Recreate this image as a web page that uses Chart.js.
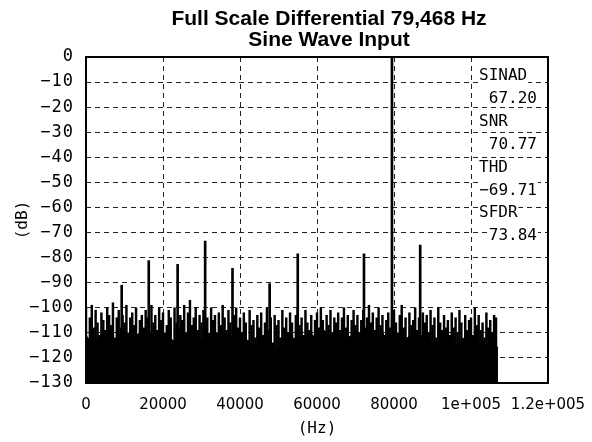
<!DOCTYPE html>
<html>
<head>
<meta charset="utf-8">
<script src="https://cdn.jsdelivr.net/npm/chart.js@4.4.1/dist/chart.umd.min.js"></script>
<style>
  html, body { margin: 0; padding: 0; background: #fff; }
  #contenedor { width: 592px; height: 442px; }
</style>
</head>
<body>
<div id="contenedor"><canvas id="espectroChart"></canvas></div>
<script>
// Textos y etiquetas
const tituloLineas = ["Full Scale Differential 79,468 Hz", "Sine Wave Input"];
const xTickLabels = ["0", "20000", "40000", "60000", "80000", "1e+005", "1.2e+005"];
const yTickLabels = ["0", "−10", "−20", "−30", "−40", "−50", "−60", "−70", "−80", "−90", "−100", "−110", "−120", "−130"];
const statNombres = ["SINAD", "SNR", "THD", "SFDR"];
const statValores = ["67.20", "70.77", "−69.71", "73.84"];

// Piso de ruido (dB), un valor cada 1000 Hz desde 0
const pasoPiso = 1000;
const ruidoPiso = [
    -111, -113, -112, -114, -110, -113, -112, -115, -113, -110,
    -109, -111, -108, -111, -110, -112, -109, -111, -110, -112,
    -111, -113, -112, -114, -111, -113, -110, -112, -114, -111,
    -113, -112, -110, -112, -111, -109, -112, -110, -113, -111,
    -114, -112, -113, -115, -114, -116, -115, -117, -116, -118,
    -116, -115, -113, -114, -112, -113, -111, -112, -110, -111,
    -113, -111, -109, -112, -110, -111, -113, -110, -112, -111,
    -109, -111, -110, -112, -109, -111, -113, -110, -112, -111,
    -110, -112, -110, -113, -111, -112, -114, -112, -113, -111,
    -114, -113, -115, -112, -114, -113, -115, -114, -112, -115,
    -113, -114, -116, -113, -115, -117, -114, -116
];

// Picos del ruido (dB), un valor cada 500 Hz desde 0
const pasoRuido = 500;
const ruidoPicos = [
    -100, -113, -104, -99, -108, -101, -106, -111, -102, -105,
    -109, -100, -103, -107, -98, -112, -104, -101, -108, -103,
    -106, -99, -110, -104, -102, -107, -100, -111, -105, -103,
    -108, -101, -104, -112, -99, -106, -103, -109, -100, -105,
    -102, -110, -107, -101, -104, -113, -100, -106, -108, -103,
    -105, -99, -111, -102, -97, -107, -104, -100, -109, -103,
    -106, -101, -108, -104, -112, -100, -105, -103, -110, -102,
    -107, -99, -104, -109, -101, -106, -111, -103, -100, -108,
    -104, -110, -102, -106, -113, -101, -107, -105, -112, -103,
    -108, -102, -111, -106, -100, -109, -104, -114, -103, -107,
    -105, -112, -101, -108, -104, -110, -102, -106, -113, -103,
    -100, -107, -104, -111, -101, -106, -109, -103, -112, -105,
    -102, -108, -100, -105, -110, -103, -107, -101, -111, -104,
    -106, -102, -109, -104, -100, -108, -103, -112, -105, -101,
    -107, -103, -110, -105, -101, -108, -104, -99, -106, -102,
    -109, -104, -100, -107, -103, -111, -105, -102, -108, -104,
    -101, -106, -110, -103, -99, -108, -104, -112, -102, -107,
    -105, -100, -109, -104, -111, -102, -106, -103, -110, -101,
    -107, -104, -112, -100, -106, -109, -103, -108, -105, -111,
    -102, -108, -104, -110, -101, -106, -113, -103, -109, -105,
    -104, -111, -100, -107, -103, -109, -106, -112, -102, -108,
    -105, -110, -103, -104
];

// Armonicos y espurios
const armonicosHz = [9270, 16300, 23800, 30950, 38050, 47700, 55000, 72200, 86800];
const armonicosDb = [-91, -81.2, -82.7, -73.4, -84.3, -90.4, -78.5, -78.5, -75.0];

// Fundamental
const senalHz = [79468];
const senalDb = [0];

const fondoDb = -130;

// Construir datasets a partir de los arreglos
const datosPiso = ruidoPiso.map((v, i) => ({ x: i * pasoPiso, y: v }));
const datosRuido = ruidoPicos.map((v, i) => ({ x: i * pasoRuido, y: [fondoDb, v] }));
const datosArmonicos = armonicosHz.map((hz, i) => ({ x: hz, y: [fondoDb, armonicosDb[i]] }));
const datosSenal = senalHz.map((hz, i) => ({ x: hz, y: [fondoDb, senalDb[i]] }));

// Titulo dibujado a mano
const tituloPlugin = {
    id: "tituloPlugin",
    afterDraw(chart) {
        const ctx = chart.ctx;
        ctx.save();
        ctx.fillStyle = "#000";
        ctx.font = "bold 21px 'Liberation Sans', Arial, sans-serif";
        ctx.textAlign = "center";
        ctx.textBaseline = "alphabetic";
        ctx.fillText(tituloLineas[0], 329, 25);
        ctx.fillText(tituloLineas[1], 329, 46);
        ctx.restore();
    }
};

// Marco completo alrededor del area del grafico
const marcoPlugin = {
    id: "marcoPlugin",
    afterDatasetsDraw(chart) {
        const { ctx, chartArea: a } = chart;
        ctx.save();
        ctx.strokeStyle = "#000";
        ctx.lineWidth = 2;
        ctx.strokeRect(a.left, a.top, a.right - a.left, a.bottom - a.top);
        ctx.restore();
    }
};

// Cuadro de resultados (SINAD, SNR, ...)
const statsPlugin = {
    id: "statsPlugin",
    afterDraw(chart) {
        const { ctx, chartArea: a } = chart;
        ctx.save();
        ctx.font = "16px 'DejaVu Sans Mono', monospace";
        ctx.textBaseline = "alphabetic";
        const izq = a.right - 69;
        const der = a.right - 11;
        statNombres.forEach((nombre, i) => {
            const yN = a.top + 23 + (2 * i) * 22.9;
            const yV = a.top + 23 + (2 * i + 1) * 22.9;
            let w = ctx.measureText(nombre).width;
            ctx.fillStyle = "#fff";
            ctx.fillRect(izq - 1, yN - 13, w + 2, 17);
            ctx.fillStyle = "#000";
            ctx.textAlign = "left";
            ctx.fillText(nombre, izq, yN);

            w = ctx.measureText(statValores[i]).width;
            ctx.fillStyle = "#fff";
            ctx.fillRect(der - w - 1, yV - 13, w + 2, 17);
            ctx.fillStyle = "#000";
            ctx.textAlign = "right";
            ctx.fillText(statValores[i], der, yV);
        });
        ctx.restore();
    }
};

// Espaciado entre letras en las etiquetas del eje Y
const espaciadoPlugin = {
    id: "espaciadoPlugin",
    beforeDraw(chart) {
        const s = chart.scales.y;
        if (s && !s._espaciado) {
            const original = s.drawLabels;
            s.drawLabels = function (area) {
                this.ctx.save();
                this.ctx.letterSpacing = "1px";
                original.call(this, area);
                this.ctx.restore();
            };
            s._espaciado = true;
        }
    }
};

const ctx = document.getElementById("espectroChart").getContext("2d");
new Chart(ctx, {
    type: "bar",
    data: {
        datasets: [
            {
                type: "line",
                data: datosPiso,
                borderColor: "#000",
                backgroundColor: "#000",
                borderWidth: 1,
                pointRadius: 0,
                tension: 0,
                fill: "start",
                order: 3
            },
            {
                data: datosRuido,
                backgroundColor: "#000",
                barThickness: 1.8,
                grouped: false,
                order: 2
            },
            {
                data: datosArmonicos,
                backgroundColor: "#000",
                barThickness: 2,
                grouped: false,
                order: 1
            },
            {
                data: datosSenal,
                backgroundColor: "#000",
                barThickness: 2,
                grouped: false,
                order: 0
            }
        ]
    },
    options: {
        responsive: true,
        maintainAspectRatio: false,
        animation: false,
        layout: { padding: { left: 0, right: 44, top: 57, bottom: 0 } },
        plugins: {
            legend: { display: false },
            tooltip: { enabled: false },
            title: { display: false }
        },
        scales: {
            x: {
                type: "linear",
                min: 0,
                max: 120000,
                offset: false,
                grid: { color: "#222", lineWidth: 1, drawTicks: false, offset: false },
                border: { display: false, dash: [5, 4] },
                ticks: {
                    stepSize: 20000,
                    padding: 13,
                    maxRotation: 0,
                    autoSkip: false,
                    color: "#000",
                    font: { family: "'DejaVu Sans'", size: 15 },
                    callback: v => xTickLabels[Math.round(v / 20000)]
                },
                title: {
                    display: true,
                    text: "(Hz)",
                    color: "#000",
                    font: { family: "'DejaVu Sans Mono'", size: 16 },
                    padding: { top: 0, bottom: 4 }
                },
                // fijar la altura del eje y quitar el relleno extra de la ultima etiqueta
                afterFit: s => { s.height = 59; s.paddingLeft = 0; s.paddingRight = 0; }
            },
            y: {
                min: -130,
                max: 0,
                grid: { color: "#222", lineWidth: 1, drawTicks: false },
                border: { display: false, dash: [5, 4] },
                ticks: {
                    stepSize: 10,
                    padding: 12,
                    color: "#000",
                    font: { family: "'DejaVu Sans Mono'", size: 17 },
                    callback: v => yTickLabels[Math.round(-v / 10)]
                },
                title: {
                    display: true,
                    text: "(dB)",
                    color: "#000",
                    font: { family: "'DejaVu Sans Mono'", size: 16 },
                    padding: { top: 13, bottom: 0 }
                },
                afterFit: s => { s.width = 86; }
            }
        }
    },
    plugins: [espaciadoPlugin, marcoPlugin, statsPlugin, tituloPlugin]
});
</script>
</body>
</html>
